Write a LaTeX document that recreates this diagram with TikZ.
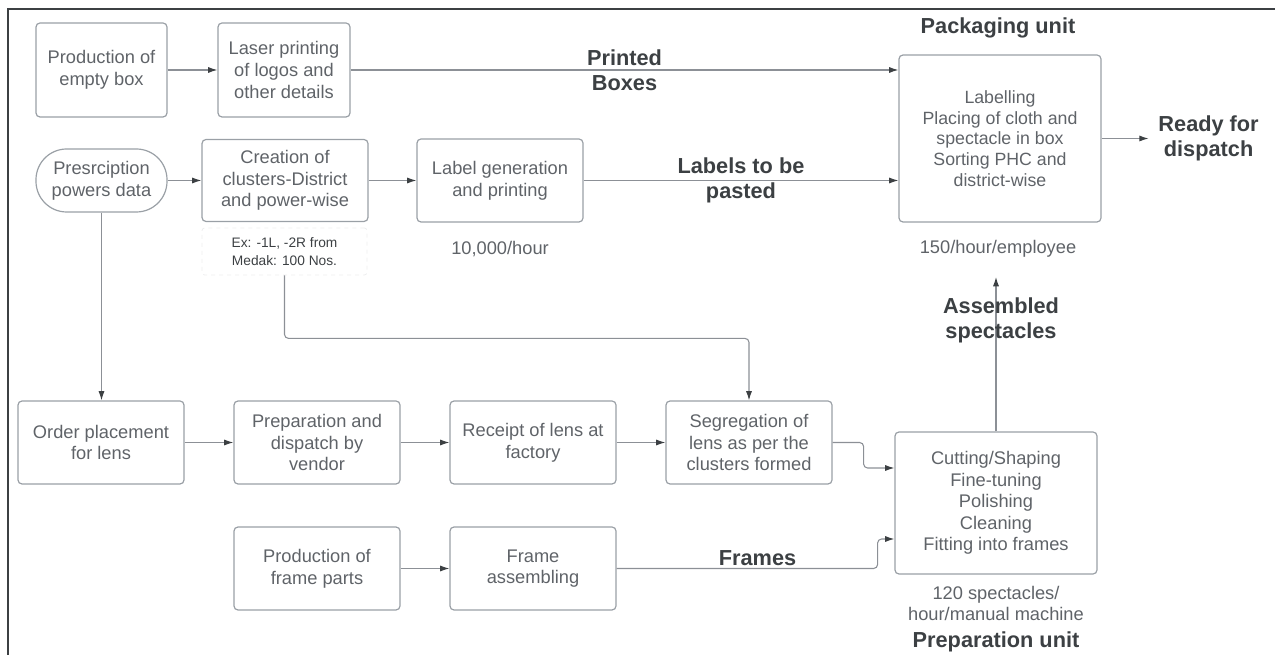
\documentclass[tikz,border=0pt]{standalone}
\usepackage{fontspec}
\setmainfont{Liberation Sans}
\usetikzlibrary{arrows.meta}
\definecolor{boxline}{HTML}{9AA0A6}
\definecolor{boxtext}{HTML}{5F6368}
\definecolor{flowline}{HTML}{8C9096}
\definecolor{tipcol}{HTML}{3C4043}
\tikzset{
  proc/.style={draw=boxline, line width=0.9pt, rounded corners=3pt, text=boxtext, align=center,
    minimum width=124.5pt, minimum height=62.25pt, inner sep=2pt, font=\fontsize{13.7}{16.2}\selectfont},
  rate/.style={text=boxtext, align=center, inner sep=1pt, font=\fontsize{13.7}{16.2}\selectfont},
  tag/.style={text=tipcol, align=center, inner sep=1pt, font=\fontsize{16.3}{18.8}\selectfont\bfseries},
  flow/.style={draw=flowline, line width=0.8pt, rounded corners=3pt, -{Latex[length=7pt,width=4.6pt,color=tipcol]}}
}
\begin{document}
\begin{tikzpicture}[x=0.75pt,y=-0.75pt]
\useasboundingbox (0,0) rectangle (1275,655);
\draw[line width=1.5pt, tipcol] (8,655)--(8,9)--(1275,9);
% boxes line
\node[proc, minimum width=98.25pt, minimum height=70.5pt] (empty) at (101.5,70) {Production of\\empty box};
\node[proc, minimum width=99pt, minimum height=70.5pt] (laser) at (284,70) {Laser printing\\of logos and\\other details};
\node[proc, minimum width=151.5pt, minimum height=125.25pt, font=\fontsize{13.3}{15.5}\selectfont] (pack) at (1000,138.5)
  {Labelling\\Placing of cloth and\\spectacle in box\\Sorting PHC and\\district-wise};
\node[tag] (packunit) at (998,28) {Packaging unit};
\node[rate] (packrate) at (998,249) {150/hour/employee};
% data line
\node[proc, minimum width=98.25pt, minimum height=47.25pt, rounded corners=23pt] (presc) at (101.5,180.5) {Presrciption\\powers data};
\node[proc, minimum height=61.5pt] (clusters) at (285,180.5) {Creation of\\clusters-District\\and power-wise};
\node[draw=boxline!18, dashed, line width=0.6pt, rounded corners=2pt, minimum width=123.75pt, minimum height=35.25pt, align=center,
  text=tipcol, inner sep=1pt, font=\fontsize{10.3}{13.5}\selectfont] (note) at (284.5,251.5) {Ex: -1L, -2R from\\Medak: 100 Nos.};
\node[proc] (labelgen) at (500,180.5) {Label generation\\and printing};
\node[rate] (labelrate) at (500,249) {10,000/hour};
% lens line
\node[proc] (order) at (101,442.5) {Order placement\\for lens};
\node[proc] (vendor) at (317,442.5) {Preparation and\\dispatch by\\vendor};
\node[proc] (receipt) at (533,442.5) {Receipt of lens at\\factory};
\node[proc] (segreg) at (749,442.5) {Segregation of\\lens as per the\\clusters formed};
% frame line
\node[proc] (frameparts) at (317,568.5) {Production of\\frame parts};
\node[proc] (frameasm) at (533,568.5) {Frame\\assembling};
\node[proc, minimum width=151.5pt, minimum height=106.5pt] (prep) at (996,503)
  {Cutting/Shaping\\Fine-tuning\\Polishing\\Cleaning\\Fitting into frames};
\node[rate] (preprate) at (996,603.5) {120 spectacles/\\hour/manual machine};
\node[tag] (prepunit) at (996,642) {Preparation unit};
\coordinate (asmtip) at (996,277);
% connectors
\foreach \a/\b in {empty/laser,presc/clusters,clusters/labelgen,order/vendor,vendor/receipt,receipt/segreg,frameparts/frameasm}
  \draw[flow] (\a) -- (\b);
\draw[flow] (laser.east) -- (laser.east -| pack.west) node[tag, midway] (boxes) {Printed\\Boxes};
\draw[flow] (labelgen.east) -- (labelgen.east -| pack.west) node[tag, midway] (labels) {Labels to be\\pasted};
\draw[flow] (presc.south) -- (presc.south |- order.north);
\draw[flow] (note.south) -- ++(0,63) -| (segreg.north);
\draw[flow] (segreg.east) -- ++(31,0) |- ([yshift=26.25pt]prep.west);
\draw[flow] (frameasm.east) -- ++(261,0) node[tag, pos=0.54, above=1pt] (frames) {Frames} |- ([yshift=-27pt]prep.west);
\draw[flow] (prep.north) -- (asmtip);
\node[tag] (asm) at (1001,320) {Assembled\\spectacles};
\draw[flow] (pack.east) -- ++(47,0) node[tag, right=6pt] (ready) {Ready for\\dispatch};
\end{tikzpicture}
\end{document}
